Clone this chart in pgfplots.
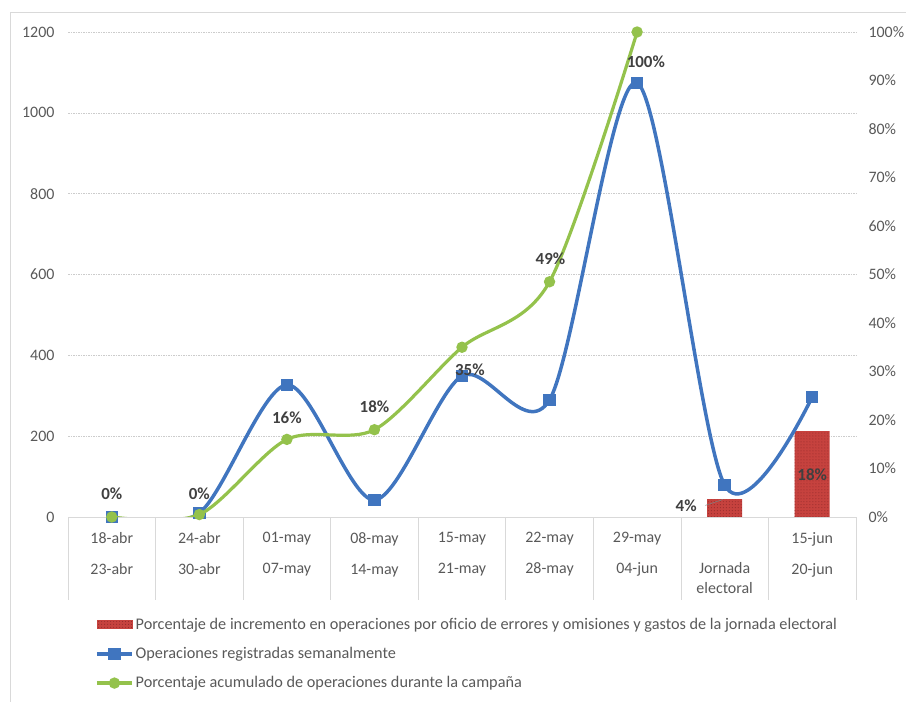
\documentclass[border=0pt]{standalone}
\usepackage{pgfplots}
\pgfplotsset{compat=1.18}
\usepackage{fontspec}
\setmainfont{Carlito}
\usetikzlibrary{patterns}

\definecolor{opblue}{RGB}{64,117,191}
\definecolor{accgreen}{RGB}{148,194,76}
\definecolor{barred}{RGB}{198,66,62}
\definecolor{dotred}{RGB}{140,40,40}
\definecolor{tickgray}{RGB}{89,89,89}
\definecolor{lblgray}{RGB}{64,64,64}
\definecolor{linegray}{RGB}{217,217,217}

\tikzset{lbl/.style={font=\fontsize{17}{20}\selectfont\bfseries, text=lblgray}}
\pgfplotsset{
  base/.style={
    at={(68bp,185bp)}, anchor=south west,
    scale only axis, width=788bp, height=485bp,
    xmin=-0.5, xmax=8.5,
    ticklabel style={font=\fontsize{16}{19}\selectfont, text=tickgray},
    /pgf/number format/assume math mode=true,
    /pgf/number format/1000 sep={},
    major tick length=0pt, tick align=outside,
  },
  linelegend/.style={legend image code/.code={
    \draw[mark repeat=2, mark phase=2, ##1] plot coordinates {(0bp,0bp) (17.5bp,0bp) (35bp,0bp)};}},
  barlegend/.style={legend image code/.code={
    \fill[barred, postaction={pattern=dots, pattern color=dotred}] (0bp,-4bp) rectangle (35bp,4bp);}},
}

\begin{document}
\begin{tikzpicture}
\useasboundingbox (0,0) rectangle (906bp,702bp);
\draw[linegray, line width=0.75bp] (10bp,0) -- (10bp,690bp) -- (906bp,690bp);

% left scale: grid, bars (stored in %, 100% = 1200), weekly operations
\begin{axis}[base,
  ymin=0, ymax=1200, ytick={0,200,...,1200},
  axis x line*=bottom, axis y line*=left,
  y axis line style={draw=none},
  x axis line style={draw=linegray, line width=0.75bp},
  ymajorgrids,
  major grid style={draw=black!20, line width=0.6bp, dash pattern=on 1.5bp off 1bp},
  yticklabel style={xshift=-10bp},
  xtick={0,...,8},
  xticklabels={{18-abr\\[12bp]23-abr},{24-abr\\[12bp]30-abr},{01-may\\[12bp]07-may},
    {08-may\\[12bp]14-may},{15-may\\[12bp]21-may},{22-may\\[12bp]28-may},
    {29-may\\[12bp]04-jun},{\phantom{1}\\[12bp]Jornada\\[1bp]electoral},{15-jun\\[12bp]20-jun}},
  xticklabel style={align=center, anchor=north, yshift=-12bp},
  extra x ticks={-0.5,0.5,...,8.5},
  extra x tick labels={},
  extra x tick style={major tick length=83bp, tick style={draw=linegray, line width=0.75bp}},
]
\addplot[ybar, bar width=35bp, fill=barred, draw=none,
  postaction={pattern=dots, pattern color=dotred},
  y filter/.expression={y*12}] coordinates {(7,3.7) (8,17.7)};
\addplot[opblue, line width=3.5bp, smooth, mark=square*, mark size=4.5bp]
  coordinates {(0,0) (1,10) (2,327) (3,42) (4,349) (5,290) (6,1074) (7,79) (8,297)};
\end{axis}

% right scale: cumulative percentage, labels, legend
\begin{axis}[base,
  ymin=0, ymax=100, ytick={0,10,...,100},
  yticklabel={\pgfmathprintnumber{\tick}\%},
  axis x line=none, axis y line*=right,
  y axis line style={draw=none},
  yticklabel style={xshift=9bp},
  legend style={draw=none, fill=none, at={(axis description cs:0,0)}, anchor=north west,
    xshift=24bp, yshift=-97bp, font=\fontsize{16.3}{19}\selectfont, text=tickgray,
    row sep=12.5bp},
  legend cell align=left,
]
\addlegendimage{barlegend}
\addlegendentry{Porcentaje de incremento en operaciones por oficio de errores y omisiones y gastos de la jornada electoral}
\addlegendimage{opblue, line width=3.5bp, mark=square*, mark size=4.5bp, linelegend}
\addlegendentry{Operaciones registradas semanalmente}
\addplot[accgreen, line width=3.2bp, smooth, mark=*, mark size=4bp, linelegend]
  coordinates {(0,0) (1,0.5) (2,16) (3,18) (4,35) (5,48.5) (6,100)};
\addlegendentry{Porcentaje acumulado de operaciones durante la campaña}

\node[lbl] at (axis cs:0,4.7) {0\%};
\node[lbl] at (axis cs:1,4.9) {0\%};
\node[lbl] at (axis cs:2,20.4) {16\%};
\node[lbl] at (axis cs:3,22.7) {18\%};
\node[lbl] at (axis cs:4.09,30.3) {35\%};
\node[lbl] at (axis cs:5.01,53.2) {49\%};
\node[lbl] at (axis cs:6.1,93.8) {100\%};
\node[lbl] at (axis cs:6.56,2.3) {4\%};
\draw[gray, line width=0.6bp] (axis cs:6.78,2.4) -- (axis cs:6.98,3.6);
\node[lbl] at (axis cs:8,8.7) {18\%};
\end{axis}
\end{tikzpicture}
\end{document}
